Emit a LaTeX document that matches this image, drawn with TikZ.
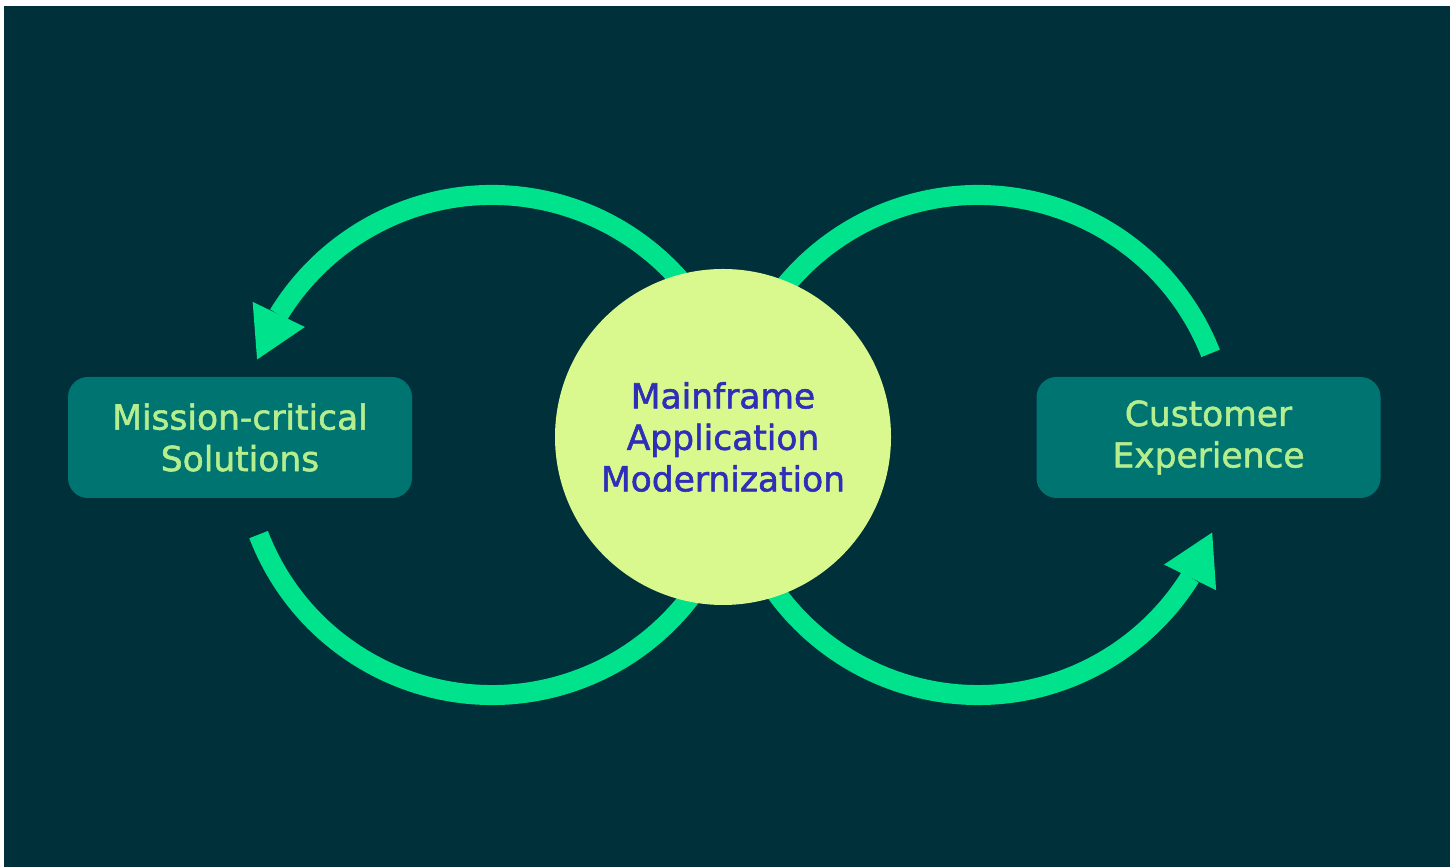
\documentclass[tikz,border=0pt]{standalone}
\usepackage{fontspec}
\setmainfont{DejaVu Sans}[FakeBold=1.6]
\usepackage{xcolor}
\usetikzlibrary{arrows.meta,bending,positioning}
\definecolor{bgdark}{HTML}{00303A}
\definecolor{arcgreen}{HTML}{00E28C}
\definecolor{hubfill}{HTML}{D9F88E}
\definecolor{hubtext}{HTML}{2E2EB8}
\definecolor{boxfill}{HTML}{007470}
\definecolor{boxtext}{HTML}{B4EE8E}
\tikzset{
    every node/.style={font=\fontsize{9.8}{11.8}\selectfont}
}

\begin{document}
\begin{tikzpicture}[
    loopline/.style={draw=arcgreen,line width=2mm},
    looptip/.style={-{Triangle[length=5mm,width=5.8mm,line width=0pt,flex]}},
    hub/.style={circle,fill=hubfill,text=hubtext,minimum size=3.36cm,inner sep=0pt,align=center},
    goal/.style={rectangle,rounded corners=2mm,fill=boxfill,text=boxtext,minimum width=3.44cm,minimum height=1.21cm,align=center}
]
    % Background
    \useasboundingbox (0,0) rectangle (14.5,8.67);
    \fill[white] (0,0) rectangle (14.5,8.67);
    \fill[bgdark] (0.04,0) rectangle (14.5,8.61);

    % Centres of the two loops
    \coordinate (lc) at (4.92,4.22);
    \coordinate (rc) at (9.78,4.22);

    % Draw the four arcs
    \draw[loopline,looptip] ([shift={(25:2.5)}]lc) arc (25:160:2.5);
    \draw[loopline] ([shift={(201:2.5)}]lc) arc (201:335:2.5);
    \draw[loopline] ([shift={(21.5:2.5)}]rc) arc (21.5:155:2.5);
    \draw[loopline,looptip] ([shift={(205:2.5)}]rc) arc (205:339.5:2.5);

    % Draw the hub and the two boxes
    \node[hub] (hub) at (7.23,4.30) {Mainframe\\Application\\Modernization};
    \node[goal] (mission) at (2.40,4.295) {Mission-critical\\Solutions};
    \node[goal] (customer) at (12.085,4.295) {Customer\\Experience};
\end{tikzpicture}
\end{document}
